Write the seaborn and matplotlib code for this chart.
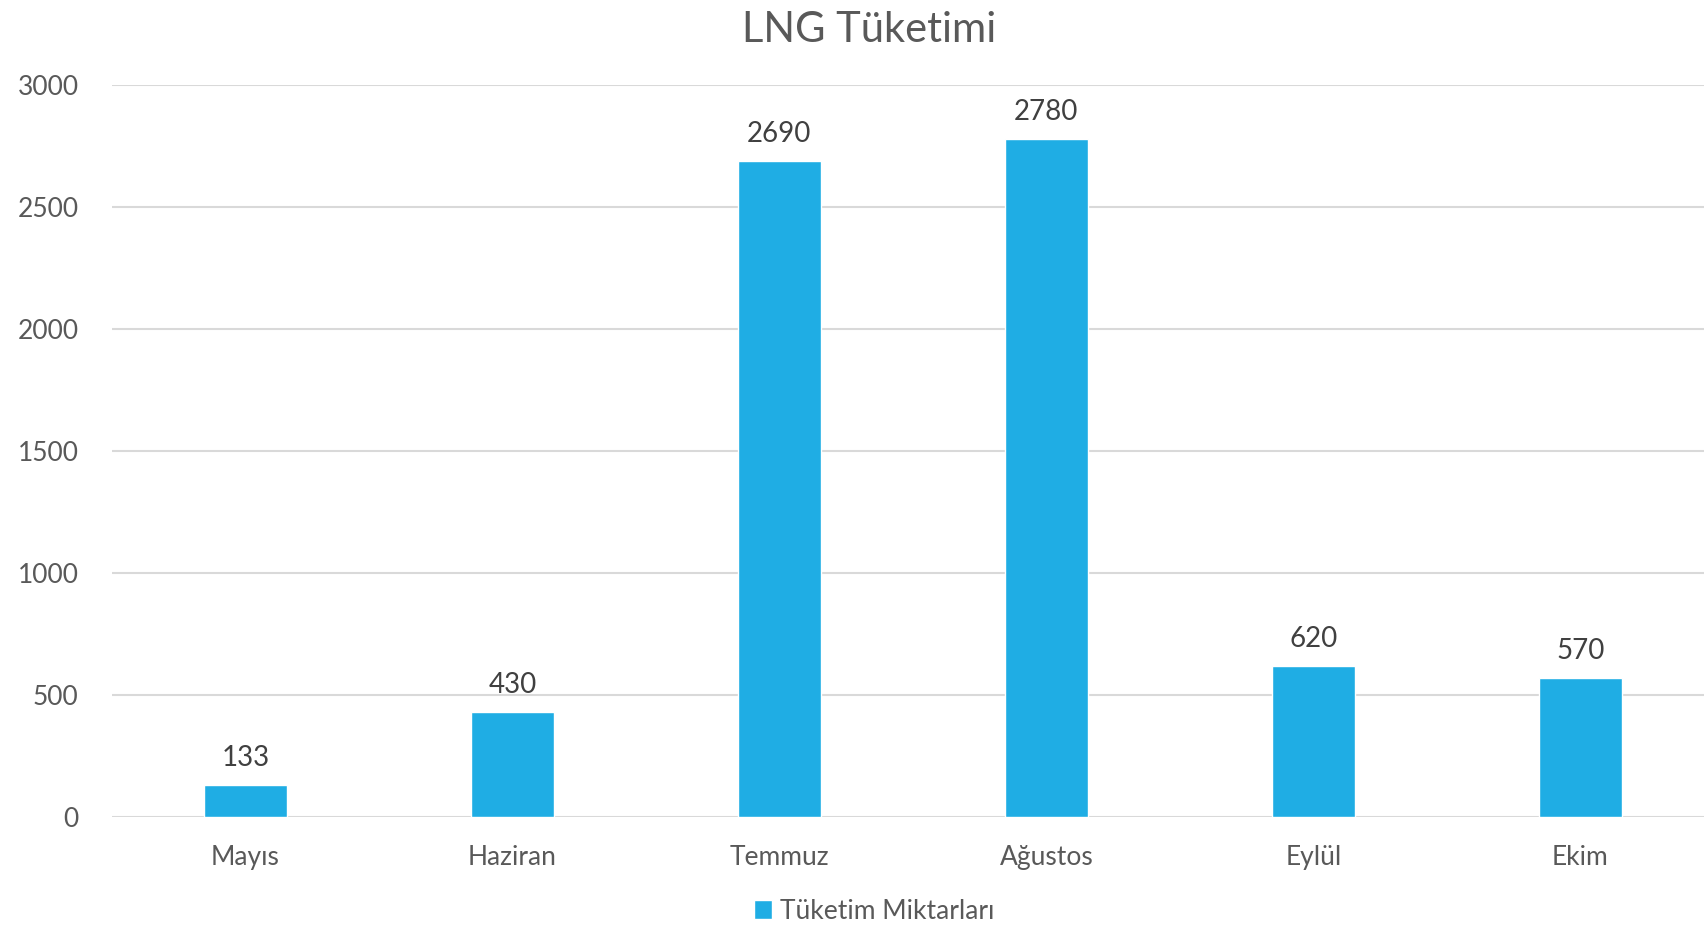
import matplotlib
matplotlib.use("Agg")
import matplotlib.pyplot as plt
import seaborn as sns
import pandas as pd

# chart data
months = ["Mayıs", "Haziran", "Temmuz", "Ağustos", "Eylül", "Ekim"]
consumption = [133, 430, 2690, 2780, 620, 570]
series_name = "Tüketim Miktarları"
y_ticks = [0, 500, 1000, 1500, 2000, 2500, 3000]

df = pd.DataFrame({"Ay": months, "Miktar": consumption})

sns.set_theme(style="white")
plt.rcParams["font.family"] = ["Lato", "DejaVu Sans"]

bar_color = "#1FADE4"
text_color = "#595959"
grid_color = "#D9D9D9"

fig = plt.figure(figsize=(17.04, 9.27), dpi=100)
ax = fig.add_axes([0.0657, 0.1187, 0.94, 0.7896])

sns.barplot(data=df, x="Ay", y="Miktar", color=bar_color, width=0.31,
            saturation=1, ax=ax, label=series_name, zorder=3)
if ax.get_legend() is not None:
    ax.get_legend().remove()

ax.set_ylim(0, 3000)
ax.set_xlim(-0.5, 5.5)
ax.set_yticks(y_ticks)
ax.set_xlabel("")
ax.set_ylabel("")
ax.yaxis.grid(True, color=grid_color, linewidth=1.5, zorder=0)
ax.set_axisbelow(True)
for s in ax.spines.values():
    s.set_visible(False)
ax.tick_params(axis="both", length=0, labelsize=19, colors=text_color)
ax.tick_params(axis="y", pad=24)
ax.tick_params(axis="x", pad=20)

# value labels
for p, v in zip(ax.patches, consumption):
    ax.annotate(str(v), (p.get_x() + p.get_width() / 2, v),
                xytext=(0, 10), textcoords="offset points",
                ha="center", va="bottom", fontsize=20, color="#404040",
                annotation_clip=False)

fig.text(0.51, 0.968, "LNG Tüketimi", ha="center", va="center",
         fontsize=30, color=text_color)

handles, labels = ax.get_legend_handles_labels()
leg = fig.legend(handles, labels, loc="center", bbox_to_anchor=(0.513, 0.017),
                 frameon=False, fontsize=19, handlelength=0.7, handleheight=0.7,
                 handletextpad=0.3)
for t in leg.get_texts():
    t.set_color(text_color)

fig.savefig("out.png", dpi=100)
